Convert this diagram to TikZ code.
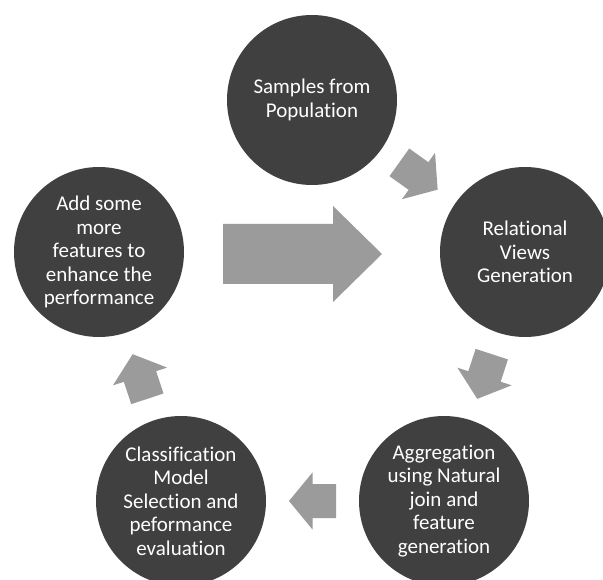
\documentclass[tikz,border=0pt]{standalone}
\usepackage{fontspec}
\setmainfont{Carlito}[Ligatures=NoCommon]
\usetikzlibrary{calc}
\definecolor{circfill}{HTML}{404040}
\definecolor{arrowfill}{HTML}{9B9B9B}
\begin{document}
\begin{tikzpicture}[x=1pt,y=-1pt,
  stage/.style={circle,fill=circfill,minimum size=170pt,inner sep=0pt,text=white,align=center,font=\fontsize{21}{23.5}\selectfont},
  blockarrow/.pic={\fill[arrowfill] (-23.5,-17) -- (0,-17) -- (0,-28.5) -- (23.5,0) -- (0,28.5) -- (0,17) -- (-23.5,17) -- cycle;}
]
\useasboundingbox (0,0) rectangle (603,580);
\clip (0,0) rectangle (603,580);
\fill[white] (0,0) rectangle (603,580);
\node[stage] (s1) at (312,100) {Samples from\\Population};
\node[stage] (s2) at (525,252) {Relational\\Views\\Generation};
\node[stage] (s3) at (444,501) {Aggregation\\using Natural\\join and\\feature\\generation};
\node[stage] (s4) at (181,501) {Classification\\Model\\Selection and\\peformance\\evaluation};
\node[stage] (s5) at (99,252) {Add some\\more\\features to\\enhance the\\performance};
\foreach \a/\b in {s1/s2,s2/s3,s3/s4,s4/s5}{
  \path let \p1=($(\b)-(\a)$), \n1={atan2(\y1,\x1)} in ($(\a)!0.5!(\b)$) pic[rotate=\n1] {blockarrow};
}
\fill[arrowfill] (223,224) -- (333,224) -- (333,206) -- (382,254) -- (333,302) -- (333,284) -- (223,284) -- cycle;
\end{tikzpicture}
\end{document}
